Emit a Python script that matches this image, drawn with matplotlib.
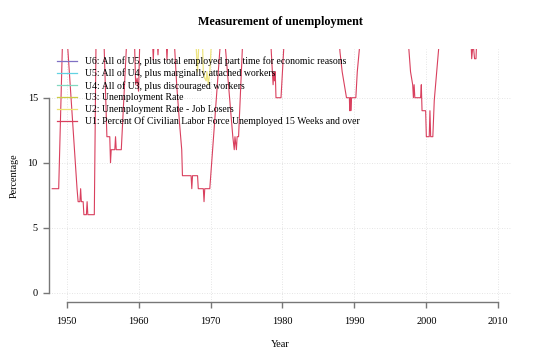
import matplotlib
matplotlib.use('Agg')
import matplotlib.pyplot as plt
from matplotlib.lines import Line2D

plt.rcParams['font.family'] = ['Liberation Serif', 'DejaVu Serif']

# U1 series (year, percent); values above the top are clipped
u1_years = [1948.0, 1948.9, 1949.6, 1949.75, 1949.9, 1951.45, 1951.6, 1951.85, 1951.95, 1952.05,
            1952.3, 1952.4, 1952.75, 1952.85, 1952.95, 1953.85, 1954.1, 1954.6, 1955.1, 1955.6,
            1956.0, 1956.05, 1956.1, 1956.2, 1956.7, 1956.8, 1956.9, 1957.6, 1958.5, 1959.4,
            1959.6, 1959.8, 1960.0, 1960.2, 1961.9, 1962.05, 1962.2, 1962.6, 1962.7, 1962.8,
            1963.8, 1963.95, 1964.1, 1964.9, 1965.3, 1965.7, 1966.0, 1966.1, 1967.3, 1967.4,
            1967.5, 1968.2, 1968.3, 1969.0, 1969.1, 1969.2, 1969.9, 1971.5, 1971.9, 1973.1,
            1973.3, 1973.4, 1973.6, 1973.7, 1973.9, 1974.6, 1978.3, 1978.6, 1978.7, 1978.8,
            1978.9, 1979.0, 1979.1, 1979.8, 1980.3, 1987.8, 1988.0, 1988.3, 1988.6, 1988.9,
            1989.3, 1989.35, 1989.45, 1989.5, 1989.6, 1990.2, 1990.4, 1990.9, 1997.4, 1997.8,
            1998.1, 1998.2, 1998.3, 1998.4, 1999.2, 1999.3, 1999.4, 1999.9, 2000.0, 2000.4,
            2000.5, 2000.6, 2000.9, 2001.1, 2001.9, 2006.2, 2006.3, 2006.5, 2006.7, 2006.9,
            2007.0, 2010.0]
u1_vals = [8, 8, 23, 23.5, 21, 8, 7, 7, 8, 7,
           7, 6, 6, 7, 6, 6, 20, 22, 21, 12,
           12, 11, 10, 11, 11, 12, 11, 11, 21, 20,
           16, 16.5, 15.5, 20, 20, 17.9, 20, 19.5, 18.3, 19.5,
           20, 17.9, 20, 20, 16, 13, 11, 9, 9, 8,
           9, 9, 8, 8, 7, 8, 8, 20.2, 20, 12,
           11, 12, 11, 12, 12, 21, 20, 17, 16, 17,
           16.3, 17, 15, 15, 20, 20, 18.5, 17, 16, 15,
           15, 14, 15, 14, 15, 15, 17, 20, 20, 17,
           16, 15, 16, 15, 15, 16, 14, 14, 12, 12,
           14, 12, 12, 14.8, 20, 19.5, 18, 19.2, 18, 18,
           19.5, 21]

# U2 series, only the part that shows up near 1969
u2_years = [1967.8, 1968.2, 1968.4, 1968.9, 1969.0, 1969.2, 1969.4, 1969.5, 1969.7, 1969.9, 1970.2]
u2_vals = [21, 17, 19.5, 19, 17, 16.5, 16.3, 17, 16, 17, 20]

labels = ['U6: All of U5, plus total employed part time for economic reasons',
          'U5: All of U4, plus marginally attached workers',
          'U4: All of U3, plus discouraged workers',
          'U3: Unemployment Rate',
          'U2: Unemployment Rate - Job Losers',
          'U1: Percent Of Civilian Labor Force Unemployed 15 Weeks and over']
colors = ['#7f70c4', '#62d2e2', '#82d8c0', '#cccc44', '#ece272', '#d9405e']

fig = plt.figure(figsize=(5.4, 3.63), dpi=100)
ax = fig.add_axes([0.0907, 0.168, 0.8574, 0.696])

for x in range(1950, 2011, 10):
    ax.axvline(x, color='#dcdcdc', lw=0.6, ls=(0, (1, 2)), zorder=0)
for y in [0, 5, 10, 15]:
    ax.axhline(y, color='#dcdcdc', lw=0.6, ls=(0, (1, 2)), zorder=0)

ax.plot(u2_years, u2_vals, color=colors[4], lw=0.9, alpha=0.9)
ax.plot(u1_years, u1_vals, color=colors[5], lw=0.8)

ax.set_xlim(1947.55, 2011.9)
ax.set_ylim(-0.72, 18.72)

for s in ['top', 'right']:
    ax.spines[s].set_visible(False)
ax.spines['left'].set_bounds(0, 15)
ax.spines['bottom'].set_bounds(1950, 2010)
for s in ['left', 'bottom']:
    ax.spines[s].set_color('#777777')
    ax.spines[s].set_linewidth(1.0)

ax.set_xticks(range(1950, 2011, 10))
ax.set_yticks([0, 5, 10, 15])
ax.tick_params(axis='both', colors='#777777', labelcolor='black', labelsize=7.4, length=4, width=1.0)
ax.tick_params(axis='x', pad=7)
ax.tick_params(axis='y', pad=4)

handles = [Line2D([], [], color=c, lw=0.9) for c in colors]
ax.legend(handles, labels, loc='upper left', bbox_to_anchor=(0.017, 0.972), frameon=False,
          fontsize=7.05, handlelength=2.1, handletextpad=0.8, labelspacing=0.27,
          borderaxespad=0, borderpad=0)

fig.text(0.519, 0.939, 'Measurement of unemployment', ha='center', va='center',
         fontsize=8.7, fontweight='bold')
fig.text(0.519, 0.052, 'Year', ha='center', va='center', fontsize=7.3)
fig.text(0.026, 0.516, 'Percentage', ha='center', va='center', rotation=90, fontsize=7.3)

fig.savefig('out.png', dpi=100)
